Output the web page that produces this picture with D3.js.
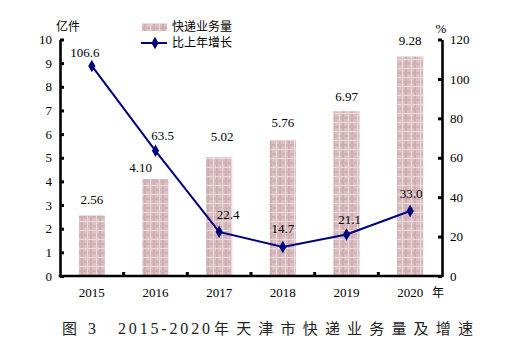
<!DOCTYPE html>
<html><head><meta charset="utf-8">
<script src="https://cdn.jsdelivr.net/npm/d3@7/dist/d3.min.js"></script>
<style>
body{margin:0;background:#fff;}
svg{display:block;}
</style></head>
<body>
<svg id="chart" width="511" height="355"></svg>
<script>
const years = ["2015","2016","2017","2018","2019","2020"];
const volume = [2.56, 4.10, 5.02, 5.76, 6.97, 9.28];
const growth = [106.6, 63.5, 22.4, 14.7, 21.1, 33.0];
const volumeLabels = ["2.56","4.10","5.02","5.76","6.97","9.28"];
const growthLabels = ["106.6","63.5","22.4","14.7","21.1","33.0"];
const leftTicks = [0,1,2,3,4,5,6,7,8,9,10];
const rightTicks = [0,20,40,60,80,100,120];

const svg = d3.select("#chart");
const L = 60, R = 442, T = 39.5, B = 276;
const num = "'Liberation Serif','Times New Roman',serif";
const cjk = "'Noto Sans CJK SC','Noto Sans',sans-serif";

const x = d3.scaleBand().domain(years).range([L, R]).paddingInner(0.59).paddingOuter(0.295);
const band = d3.scaleBand().domain(years).range([L, R]);
const yL = d3.scaleLinear().domain([0,10]).range([B, T]);
const yR = d3.scaleLinear().domain([0,120]).range([B, T]);

// pattern
const defs = svg.append("defs");
const pat = defs.append("pattern").attr("id","plaid").attr("patternUnits","userSpaceOnUse")
  .attr("width",9).attr("height",9);
pat.append("rect").attr("width",9).attr("height",9).attr("fill","#dac0c3");
pat.append("rect").attr("x",0).attr("y",0).attr("width",2).attr("height",9).attr("fill","#cfadb1");
pat.append("rect").attr("x",0).attr("y",0).attr("width",9).attr("height",2).attr("fill","#cfadb1").attr("opacity",0.7);
pat.append("rect").attr("x",0).attr("y",5).attr("width",9).attr("height",1).attr("fill","#e9dadb");
pat.append("rect").attr("x",6).attr("y",0).attr("width",1).attr("height",9).attr("fill","#e9dadb");

// bars
svg.append("g").selectAll("rect").data(volume).join("rect")
  .attr("x",(d,i)=>x(years[i]))
  .attr("width",x.bandwidth())
  .attr("y",d=>yL(d))
  .attr("height",d=>B-yL(d))
  .attr("fill","url(#plaid)");

// axes
const axisL = d3.axisLeft(yL).tickValues(leftTicks).tickSizeInner(-4).tickSizeOuter(0).tickPadding(8);
const gL = svg.append("g").attr("transform",`translate(${L},0)`).call(axisL);
const axisR = d3.axisRight(yR).tickValues(rightTicks).tickSizeInner(-4).tickSizeOuter(0).tickPadding(8);
const gR = svg.append("g").attr("transform",`translate(${R},0)`).call(axisR);
const axisB = d3.axisBottom(band).tickSize(0).tickPadding(12);
const gB = svg.append("g").attr("transform",`translate(0,${B})`).call(axisB);
[gL,gR,gB].forEach(g=>{
  g.select(".domain").attr("stroke","#000").attr("stroke-width",2.6);
  g.selectAll(".tick line").attr("stroke","#000").attr("stroke-width",3);
  g.selectAll("text").attr("font-family",num).attr("font-size",13).attr("fill","#000");
});
gL.selectAll("text").attr("x",-8);
gB.select(".domain").attr("d",`M${L-1.3},0H${R+1.3}`);
// category boundary ticks on x axis
svg.append("g").selectAll("line").data(years.slice(1)).join("line")
  .attr("x1",d=>band(d)).attr("x2",d=>band(d))
  .attr("y1",B).attr("y2",B-4).attr("stroke","#000").attr("stroke-width",3);

// line
const cx = (i)=>x(years[i]) + x.bandwidth()/2;
const line = d3.line().x((d,i)=>cx(i)).y(d=>yR(d));
svg.append("path").datum(growth).attr("d",line).attr("fill","none")
  .attr("stroke","#00007f").attr("stroke-width",2);
const diamond = d3.symbol().type(d3.symbolDiamond).size(45);
svg.append("g").selectAll("path").data(growth).join("path")
  .attr("d",diamond).attr("transform",(d,i)=>`translate(${cx(i)},${yR(d)})`)
  .attr("fill","#00007f");

// labels (layout nudges)
const barNudge = [[0,-16],[-15,-12],[3,-21],[0,-17],[0,-15],[0,-16]];
const lineNudge = [[-7,-13],[7,-15],[9,-17],[0,-19],[3,-15],[1,-18]];
svg.append("g").selectAll("text").data(volume).join("text")
  .attr("x",(d,i)=>cx(i)+barNudge[i][0])
  .attr("y",(d,i)=>yL(d)+barNudge[i][1])
  .attr("dy","0.35em").attr("text-anchor","middle")
  .attr("font-family",num).attr("font-size",13).attr("fill","#000")
  .text((d,i)=>volumeLabels[i]);
svg.append("g").selectAll("text").data(growth).join("text")
  .attr("x",(d,i)=>cx(i)+lineNudge[i][0])
  .attr("y",(d,i)=>yR(d)+lineNudge[i][1])
  .attr("dy","0.35em").attr("text-anchor","middle")
  .attr("font-family",num).attr("font-size",13).attr("fill","#000")
  .text((d,i)=>growthLabels[i]);

// units
svg.append("text").attr("x",56).attr("y",27).attr("dy","0.35em")
  .attr("font-family",cjk).attr("font-size",12).attr("fill","#000").text("亿件");
svg.append("text").attr("x",441).attr("y",28).attr("dy","0.35em").attr("text-anchor","middle")
  .attr("font-family",num).attr("font-size",13).attr("fill","#000").text("%");
svg.append("text").attr("x",432).attr("y",293).attr("dy","0.35em")
  .attr("font-family",cjk).attr("font-size",12).attr("fill","#000").text("年");

// legend
svg.append("rect").attr("x",142).attr("y",23).attr("width",25).attr("height",8).attr("fill","url(#plaid)");
svg.append("text").attr("x",172).attr("y",27).attr("dy","0.35em")
  .attr("font-family",cjk).attr("font-size",12).attr("fill","#000").text("快递业务量");
svg.append("line").attr("x1",141).attr("x2",167).attr("y1",43).attr("y2",43)
  .attr("stroke","#00007f").attr("stroke-width",2);
svg.append("path").attr("d",diamond).attr("transform","translate(155,43)").attr("fill","#00007f");
svg.append("text").attr("x",172).attr("y",43).attr("dy","0.35em")
  .attr("font-family",cjk).attr("font-size",12).attr("fill","#000").text("比上年增长");

// caption
const cap = svg.append("text").attr("y",329).attr("dy","0.35em")
  .attr("font-family",cjk).attr("font-size",15).attr("fill","#222");
cap.append("tspan").attr("x",62).text("图");
cap.append("tspan").attr("x",88).attr("font-family",num).attr("font-size",16).text("3");
cap.append("tspan").attr("x",118).attr("textLength",92).attr("lengthAdjust","spacing")
  .attr("font-family",num).attr("font-size",16).text("2015-2020");
cap.append("tspan").attr("x",214).attr("textLength",259).attr("lengthAdjust","spacing")
  .text("年天津市快递业务量及增速");
</script>
</body></html>
